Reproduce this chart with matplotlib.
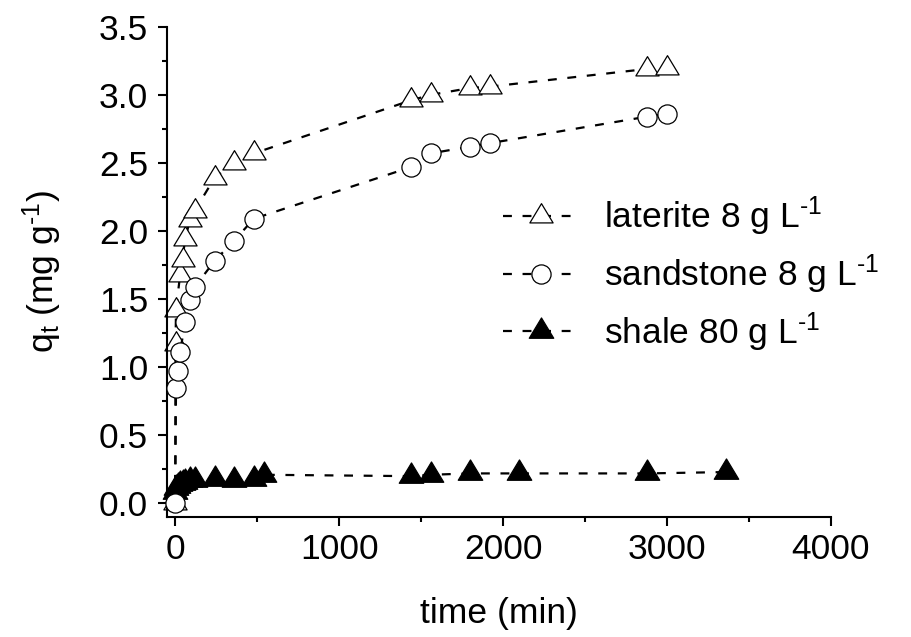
import matplotlib
matplotlib.use("Agg")
import matplotlib.pyplot as plt
from matplotlib.path import Path
from matplotlib.ticker import MultipleLocator, FormatStrFormatter

plt.rcParams["font.family"] = ["Liberation Sans", "DejaVu Sans"]
plt.rcParams["mathtext.fontset"] = "custom"
plt.rcParams["mathtext.rm"] = "Liberation Sans"
plt.rcParams["mathtext.it"] = "Liberation Sans"
plt.rcParams["mathtext.default"] = "regular"

# Adsorption kinetics: uptake q_t versus contact time
laterite_time = [0, 2, 5, 30, 45, 60, 90, 120, 240, 360, 480, 1440, 1560, 1800, 1920, 2880, 3000]
laterite_q = [0.0, 1.17, 1.42, 1.68, 1.79, 1.94, 2.08, 2.15, 2.39, 2.50, 2.57, 2.96, 3.00, 3.05, 3.06, 3.19, 3.20]

sandstone_time = [0, 5, 15, 30, 60, 90, 120, 240, 360, 480, 1440, 1560, 1800, 1920, 2880, 3000]
sandstone_q = [0.0, 0.85, 0.97, 1.11, 1.33, 1.49, 1.59, 1.78, 1.93, 2.09, 2.47, 2.57, 2.62, 2.645, 2.84, 2.86]

shale_time = [0, 5, 15, 30, 45, 60, 90, 120, 240, 360, 480, 540, 1440, 1560, 1800, 2100, 2880, 3360]
shale_q = [0.08, 0.11, 0.13, 0.14, 0.15, 0.16, 0.17, 0.17, 0.18, 0.17, 0.18, 0.21, 0.20, 0.21, 0.22, 0.22, 0.22, 0.23]

series_labels = ["laterite 8 g L$^{\\text{-}1}$",
                 "sandstone 8 g L$^{\\text{-}1}$",
                 "shale 80 g L$^{\\text{-}1}$"]

FS = 25.5

# triangle marker centred on its centroid
h = 0.83
tri = Path([(0, 2 * h / 3), (-0.5, -h / 3), (0.5, -h / 3), (0, 2 * h / 3)],
           [Path.MOVETO, Path.LINETO, Path.LINETO, Path.CLOSEPOLY])

fig = plt.figure(figsize=(9.12, 6.37), dpi=100)
ax = fig.add_axes([167 / 912, 1 - 517 / 637, (831 - 167) / 912, (517 - 26.7) / 637])

line_kw = dict(color="black", lw=1.6, dashes=(4, 4.8), clip_on=False)

ax.plot(laterite_time, laterite_q, marker=tri, ms=18.5, mfc="white", mec="black",
        mew=0.9, label=series_labels[0], zorder=2, **line_kw)
ax.plot(sandstone_time, sandstone_q, marker="o", ms=13.8, mfc="white", mec="black",
        mew=0.9, label=series_labels[1], zorder=4, **line_kw)
ax.plot(shale_time, shale_q, marker=tri, ms=19.5, mfc="black", mec="black",
        mew=0.9, label=series_labels[2], zorder=3, **line_kw)

ax.set_xlim(-50, 4000)
ax.set_ylim(-0.1, 3.5)
ax.xaxis.set_major_locator(MultipleLocator(1000))
ax.xaxis.set_minor_locator(MultipleLocator(500))
ax.yaxis.set_major_locator(MultipleLocator(0.5))
ax.yaxis.set_minor_locator(MultipleLocator(0.25))
ax.yaxis.set_major_formatter(FormatStrFormatter("%.1f"))

for side in ("top", "right"):
    ax.spines[side].set_visible(False)
for side in ("left", "bottom"):
    ax.spines[side].set_linewidth(1.5)

ax.tick_params(which="major", direction="out", length=6.5, width=1.5, labelsize=FS)
ax.tick_params(axis="x", which="major", pad=5)
ax.tick_params(axis="y", which="major", pad=7)
ax.tick_params(which="minor", direction="out", length=3.6, width=1.5)

ax.set_xlabel("time (min)", fontsize=FS, labelpad=22)
ax.set_ylabel("q$_t$ (mg g$^{\\text{-}1}$)", fontsize=FS, labelpad=25)

ax.legend(loc="upper left", bbox_to_anchor=(503 / 912, 1 - 195 / 637),
          bbox_transform=fig.transFigure, frameon=False, fontsize=FS,
          numpoints=1, handlelength=2.15, handletextpad=0.7,
          labelspacing=0.4, borderpad=0, borderaxespad=0)

fig.savefig("out.png", dpi=100)
